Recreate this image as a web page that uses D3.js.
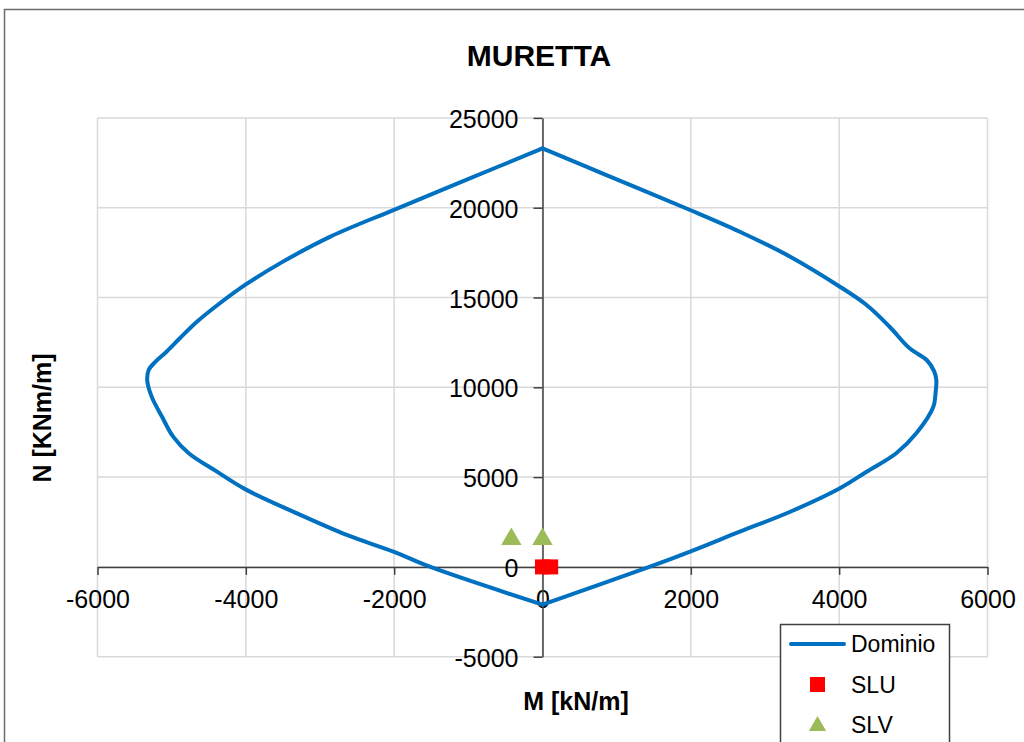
<!DOCTYPE html>
<html>
<head>
<meta charset="utf-8">
<script src="https://cdn.jsdelivr.net/npm/d3@7"></script>
<style>
  body { margin: 0; background: #fff; }
  svg { display: block; font-family: "Liberation Sans", Arial, sans-serif; }
</style>
</head>
<body>
<div id="chart"></div>
<script>
// dominio M-N, left branch (top -> bottom) and right branch (bottom -> top)
var dominioLeftM  = [0, -1070, -2010, -2860, -3540, -4010, -4350, -4660, -4890, -5070, -5220, -5310, -5330, -5270, -5130, -4980, -4770, -4400, -4010, -3310, -2640, -2010, -1520, 0];
var dominioLeftN  = [23300, 21480, 19870, 18390, 16900, 15700, 14680, 13650, 12730, 11980, 11420, 10960, 10400, 9480, 8360, 7250, 6330, 5330, 4330, 2980, 1780, 850, 10, -2100];
var dominioRightM = [0, 1450, 1990, 2660, 3340, 4010, 4370, 4770, 5040, 5270, 5300, 5310, 5280, 5180, 4950, 4680, 4370, 4010, 3340, 2660, 1990, 870, 0];
var dominioRightN = [-2100, 10, 850, 1960, 3070, 4380, 5300, 6330, 7440, 8920, 9700, 10400, 10900, 11520, 12170, 13370, 14580, 15600, 17270, 18660, 19870, 21800, 23300];
var sluM = [0, 110];
var sluN = [0, 0];
var slvM = [-420, 0];
var slvN = [1600, 1600];
var xTicks = [-6000, -4000, -2000, 0, 2000, 4000, 6000];
var yTicks = [-5000, 0, 5000, 10000, 15000, 20000, 25000];
var legendLabels = ["Dominio", "SLU", "SLV"];

var W = 1024, H = 742;
var svg = d3.select("#chart").append("svg")
    .attr("width", W)
    .attr("height", H);

svg.append("rect")
    .attr("x", 0).attr("y", 0).attr("width", W).attr("height", H)
    .attr("fill", "#fff");

// outer frame
svg.append("rect")
    .attr("x", 4.5).attr("y", 9.5)
    .attr("width", W + 10).attr("height", H + 10)
    .attr("fill", "none")
    .attr("stroke", "#6b6b6b")
    .attr("stroke-width", 1.5);

var x = d3.scaleLinear().domain([-6000, 6000]).range([97.5, 987.5]);
var y = d3.scaleLinear().domain([-5000, 25000]).range([656.7, 117.9]);

// grid
svg.append("g").selectAll("line")
    .data(xTicks)
    .enter().append("line")
    .attr("x1", d => x(d)).attr("x2", d => x(d))
    .attr("y1", y(25000)).attr("y2", y(-5000))
    .attr("stroke", "#d9d9d9").attr("stroke-width", 1.5);

svg.append("g").selectAll("line")
    .data(yTicks)
    .enter().append("line")
    .attr("x1", x(-6000)).attr("x2", x(6000))
    .attr("y1", d => y(d)).attr("y2", d => y(d))
    .attr("stroke", "#d9d9d9").attr("stroke-width", 1.5);

// axes crossing at zero
var xAxis = svg.append("g")
    .attr("transform", "translate(0," + y(0) + ")")
    .call(d3.axisBottom(x).tickValues(xTicks).tickSizeInner(8).tickSizeOuter(0).tickPadding(15)
        .tickFormat(d => String(d)));

var yAxis = svg.append("g")
    .attr("transform", "translate(" + x(0) + ",0)")
    .call(d3.axisLeft(y).tickValues(yTicks).tickSizeInner(9).tickSizeOuter(0).tickPadding(15)
        .tickFormat(d => String(d)));

[xAxis, yAxis].forEach(function(a) {
    a.select(".domain").attr("stroke", "#404040").attr("stroke-width", 1.5);
    a.selectAll(".tick line").attr("stroke", "#404040").attr("stroke-width", 1.5);
    a.selectAll(".tick text")
        .attr("fill", "#000")
        .style("font-size", "25px")
        .style("font-family", "'Liberation Sans', Arial, sans-serif");
});
yAxis.selectAll(".tick text").attr("dy", "0.38em");

// dominio curve, drawn as two branches so the top and bottom vertices stay sharp
var line = d3.line()
    .x(d => x(d[0]))
    .y(d => y(d[1]))
    .curve(d3.curveCatmullRom.alpha(0.5));

var branches = [
    dominioLeftM.map((m, i) => [m, dominioLeftN[i]]),
    dominioRightM.map((m, i) => [m, dominioRightN[i]])
];

svg.append("g").selectAll("path")
    .data(branches)
    .enter().append("path")
    .attr("d", line)
    .attr("fill", "none")
    .attr("stroke", "#0070C0")
    .attr("stroke-width", 4)
    .attr("stroke-linejoin", "round")
    .attr("stroke-linecap", "round");

// SLV triangles
var tri = d3.symbol().type(d3.symbolTriangle).size(180);
svg.append("g").selectAll("path")
    .data(slvM)
    .enter().append("path")
    .attr("d", tri)
    .attr("transform", (d, i) => "translate(" + x(d) + "," + (y(slvN[i]) + 1) + ")")
    .attr("fill", "#9BBB59");

// SLU squares
svg.append("g").selectAll("rect")
    .data(sluM)
    .enter().append("rect")
    .attr("x", d => x(d) - 7.5)
    .attr("y", (d, i) => y(sluN[i]) - 7.5)
    .attr("width", 15).attr("height", 15)
    .attr("fill", "#FF0000");

// title
svg.append("text")
    .attr("x", 539).attr("y", 66)
    .attr("text-anchor", "middle")
    .style("font-size", "30px")
    .style("font-weight", "bold")
    .text("MURETTA");

svg.append("text")
    .attr("x", 576).attr("y", 710)
    .attr("text-anchor", "middle")
    .style("font-size", "25px")
    .style("font-weight", "bold")
    .text("M [kN/m]");

svg.append("text")
    .attr("transform", "translate(51,418) rotate(-90)")
    .attr("text-anchor", "middle")
    .style("font-size", "25px")
    .style("font-weight", "bold")
    .text("N [KNm/m]");

// legend
var lg = svg.append("g");
lg.append("rect")
    .attr("x", 780.5).attr("y", 624.5)
    .attr("width", 169).attr("height", 140)
    .attr("fill", "#fff")
    .attr("stroke", "#404040")
    .attr("stroke-width", 1.5);
lg.append("line")
    .attr("x1", 791).attr("x2", 844)
    .attr("y1", 644).attr("y2", 644)
    .attr("stroke", "#0070C0").attr("stroke-width", 4)
    .attr("stroke-linecap", "round");
lg.append("rect")
    .attr("x", 810).attr("y", 677)
    .attr("width", 15).attr("height", 15)
    .attr("fill", "#FF0000");
lg.append("path")
    .attr("d", d3.symbol().type(d3.symbolTriangle).size(130))
    .attr("transform", "translate(817.5,726)")
    .attr("fill", "#9BBB59");
lg.selectAll("text")
    .data(legendLabels)
    .enter().append("text")
    .attr("x", 851)
    .attr("y", (d, i) => [652, 693, 733][i])
    .style("font-size", "23px")
    .text(d => d);
</script>
</body>
</html>
